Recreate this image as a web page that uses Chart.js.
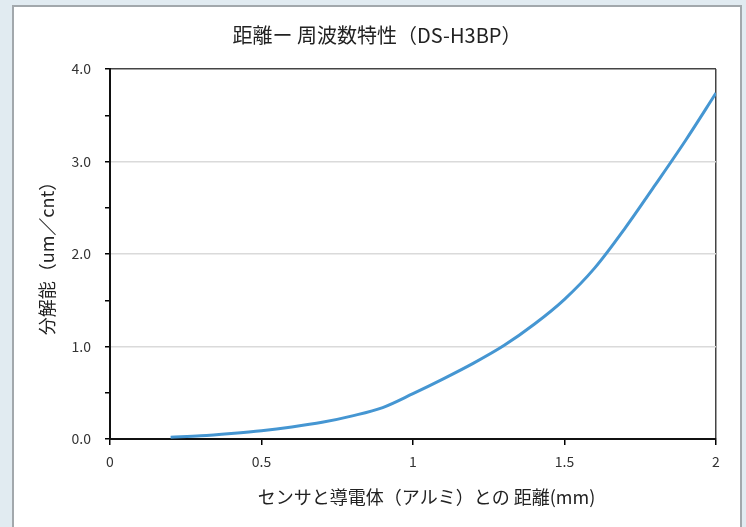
<!DOCTYPE html>
<html>
<head>
<meta charset="utf-8">
<script src="https://cdn.jsdelivr.net/npm/chart.js@4/dist/chart.umd.min.js"></script>
<style>
  html, body { margin:0; padding:0; background:#e1ebf1; overflow:hidden; }
  #panel { position:absolute; left:12px; top:5px; width:730px; height:524px; box-sizing:border-box;
           background:#fff; border:2px solid #a2a8ac; }
  #chart { position:absolute; left:0; top:0; }
</style>
</head>
<body>
<div id="panel"></div>
<canvas id="chart" width="746" height="527"></canvas>
<script>
// distance (mm) vs resolution (um/cnt)
const distances  = [0.2, 0.3, 0.4, 0.5, 0.6, 0.7, 0.8, 0.9, 1.0, 1.1, 1.2, 1.3, 1.4, 1.5, 1.6, 1.7, 1.8, 1.9, 2.0];
const resolution = [0.02, 0.035, 0.06, 0.09, 0.13, 0.18, 0.25, 0.34, 0.49, 0.65, 0.82, 1.01, 1.24, 1.51, 1.85, 2.28, 2.75, 3.23, 3.74];
const xTicks = [0, 0.5, 1, 1.5, 2];
const yTicks = [0, 1, 2, 3, 4];

const FONT = '"Noto Sans CJK JP", "Noto Sans", sans-serif';
const points = distances.map((d, i) => ({x: d, y: resolution[i]}));

new Chart(document.getElementById('chart').getContext('2d'), {
  type: 'line',
  data: {
    datasets: [{
      data: points,
      borderColor: '#4596d2',
      borderWidth: 3,
      pointRadius: 0,
      cubicInterpolationMode: 'monotone',
      fill: false
    }]
  },
  options: {
    responsive: false,
    animation: false,
    // left padding only used to centre the title like the original
    layout: { padding: { left: 38, right: 30, top: 0, bottom: 0 } },
    plugins: {
      legend: { display: false },
      tooltip: { enabled: false },
      title: {
        display: true,
        text: '距離ー 周波数特性（DS-H3BP）',
        color: '#222',
        font: { family: FONT, size: 20, weight: 'normal', lineHeight: 1.2 },
        padding: { top: 23, bottom: 22 }
      }
    },
    scales: {
      x: {
        type: 'linear',
        min: 0, max: 2,
        afterBuildTicks: s => { s.ticks = xTicks.map(v => ({value: v})); },
        afterFit: s => { s.height = 88; },
        ticks: {
          color: '#333',
          font: { family: FONT, size: 14 },
          padding: 8,
          callback: v => String(v)
        },
        grid: {
          color: c => (c.tick && c.tick.value === 2) ? '#444' : 'transparent',
          tickColor: '#000',
          tickLength: 6,
          lineWidth: 1.5,
          tickWidth: 1.5
        },
        border: { color: '#111', width: 2 },
        title: {
          display: true,
          text: '\u2002\u2002\u2002センサと導電体（アルミ）との 距離(mm)',
          color: '#222',
          font: { family: FONT, size: 18, lineHeight: 1.2 },
          padding: { top: 4, bottom: 19 }
        }
      },
      y: {
        min: 0, max: 4,
        afterBuildTicks: s => {
          const t = [];
          for (let i = 0; i < yTicks.length; i++) {
            t.push({value: yTicks[i]});
            if (i < yTicks.length - 1) t.push({value: yTicks[i] + 0.5});
          }
          s.ticks = t;
        },
        afterFit: s => { s.width = 72; },
        ticks: {
          color: '#333',
          font: { family: FONT, size: 14 },
          padding: 14,
          autoSkip: false,
          callback: v => yTicks.includes(v) ? v.toFixed(1) : ''
        },
        grid: {
          color: c => {
            const v = c.tick ? c.tick.value : -1;
            if (v === 4) return '#444';
            if (v === 1 || v === 2 || v === 3) return '#dadada';
            return 'transparent';
          },
          tickColor: '#000',
          tickLength: 5,
          lineWidth: 1.5,
          tickWidth: 1.5
        },
        border: { color: '#111', width: 2 },
        title: {
          display: true,
          text: '分解能（um／cnt）',
          color: '#222',
          font: { family: FONT, size: 18, lineHeight: 1.0 },
          padding: { top: 0.5, bottom: 0 }
        }
      }
    }
  }
});
</script>
</body>
</html>
